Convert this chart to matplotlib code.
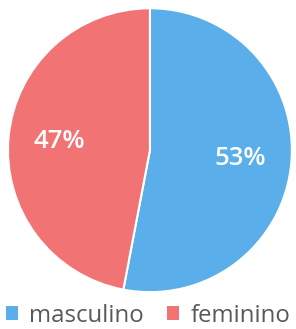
import matplotlib.pyplot as plt
from matplotlib.patches import Patch

labels = ["masculino", "feminino"]
values = [53, 47]
colors = ["#5aaeea", "#f27374"]

plt.rcParams["font.family"] = ["Open Sans", "DejaVu Sans"]

fig = plt.figure(figsize=(2.96, 3.29), dpi=100)
ax = fig.add_axes([0.027, 0.112, 0.959, 0.863])

wedges, _, autotexts = ax.pie(
    values,
    colors=colors,
    startangle=90,
    counterclock=False,
    autopct=lambda p: f"{round(p)}%",
    pctdistance=0.64,
    radius=1.0,
    wedgeprops=dict(edgecolor="white", linewidth=1.5),
    textprops=dict(color="white", fontsize=18.5, fontweight="semibold"),
)
ax.set_xlim(-1.0, 1.0)
ax.set_ylim(-1.0, 1.0)
ax.set_aspect("equal")
ax.axis("off")

# legend squares without the white wedge border
handles = [Patch(facecolor=c, edgecolor="none") for c in colors]
fig.legend(
    handles, labels,
    loc="center",
    bbox_to_anchor=(0.5, 0.04),
    ncol=2,
    frameon=False,
    fontsize=17.3,
    handlelength=0.5,
    handleheight=0.5,
    handletextpad=0.45,
    columnspacing=1.0,
    labelcolor="#595959",
)

fig.savefig("out.png", dpi=100, facecolor="white")
